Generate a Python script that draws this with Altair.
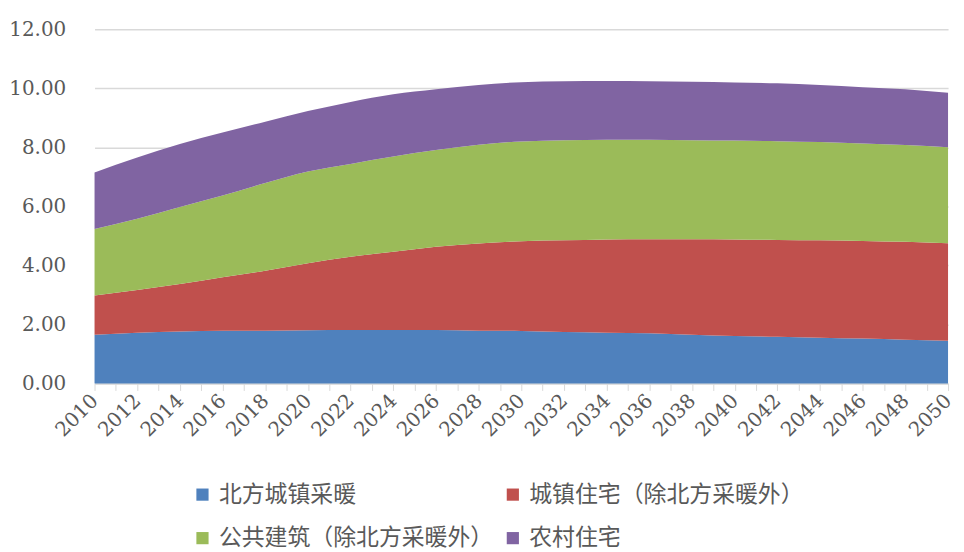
import altair as alt
import pandas as pd

years = list(range(2010, 2051, 2))
series_names = ["北方城镇采暖", "城镇住宅（除北方采暖外）", "公共建筑（除北方采暖外）", "农村住宅"]
legend_order = ["北方城镇采暖", "公共建筑（除北方采暖外）", "城镇住宅（除北方采暖外）", "农村住宅"]
colors = ["#4F81BD", "#C0504D", "#9BBB59", "#8064A2"]

north_heating = [1.65, 1.72, 1.76, 1.79, 1.79, 1.80, 1.81, 1.81, 1.81, 1.79, 1.78,
                 1.74, 1.72, 1.70, 1.65, 1.61, 1.58, 1.55, 1.52, 1.48, 1.45]
urban_res = [1.33, 1.45, 1.61, 1.81, 2.03, 2.27, 2.48, 2.65, 2.82, 2.95, 3.04,
             3.11, 3.16, 3.19, 3.24, 3.27, 3.28, 3.30, 3.31, 3.32, 3.30]
public_bldg = [2.25, 2.41, 2.61, 2.77, 2.97, 3.11, 3.15, 3.23, 3.28, 3.35, 3.38,
               3.39, 3.38, 3.37, 3.35, 3.35, 3.35, 3.33, 3.30, 3.28, 3.25]
rural_res = [1.92, 2.08, 2.13, 2.13, 2.08, 2.05, 2.10, 2.11, 2.06, 2.02, 2.01,
             2.00, 1.99, 1.98, 1.98, 1.97, 1.96, 1.93, 1.91, 1.89, 1.85]

all_series = [north_heating, urban_res, public_bldg, rural_res]
rows = []
for idx, (name, vals) in enumerate(zip(series_names, all_series)):
    for y, v in zip(years, vals):
        rows.append({"year": y, "value": v, "series": name, "idx": idx})
df = pd.DataFrame(rows)

font_num = "DejaVu Serif"
font_cjk = "Noto Sans CJK SC"

chart = alt.Chart(df).mark_area(interpolate="monotone").encode(
    x=alt.X("year:Q",
            scale=alt.Scale(domain=[2010, 2050], nice=False, zero=False),
            axis=alt.Axis(values=list(range(2010, 2051)), format="d",
                          labelExpr="datum.value % 2 === 0 ? '' + datum.value : ''",
                          labelAngle=315, labelAlign="right", labelBaseline="middle",
                          labelPadding=7, tickSize=7, tickColor="#d9d9d9",
                          domainColor="#d9d9d9", grid=False, title=None,
                          labelFont=font_num, labelFontSize=20, labelColor="#595959",
                          labelOverlap=False)),
    y=alt.Y("value:Q", stack="zero",
            scale=alt.Scale(domain=[0, 12], nice=False),
            axis=alt.Axis(values=[0, 2, 4, 6, 8, 10, 12], format=".2f",
                          ticks=False, domain=False, grid=True, gridColor="#d9d9d9",
                          gridWidth=1.5, labelPadding=29, title=None,
                          labelFont=font_num, labelFontSize=20, labelColor="#595959")),
    color=alt.Color("series:N",
                    scale=alt.Scale(domain=series_names, range=colors),
                    legend=alt.Legend(orient="none", legendX=97, legendY=456,
                                      values=legend_order,
                                      columns=2, title=None, symbolType="square",
                                      symbolSize=150, symbolStrokeWidth=0,
                                      labelFont=font_cjk, labelFontSize=23,
                                      labelColor="#595959", labelOffset=5,
                                      rowPadding=20, columnPadding=8, padding=0,
                                      labelLimit=400)),
    order=alt.Order("idx:Q", sort="ascending"),
).properties(
    width=858, height=356,
    autosize=alt.AutoSizeParams(type="none"),
    padding={"left": 87, "top": 20, "right": 8, "bottom": 168},
).configure_view(stroke=None)

chart.save("out.html", embed_options={"renderer": "svg", "actions": False})
